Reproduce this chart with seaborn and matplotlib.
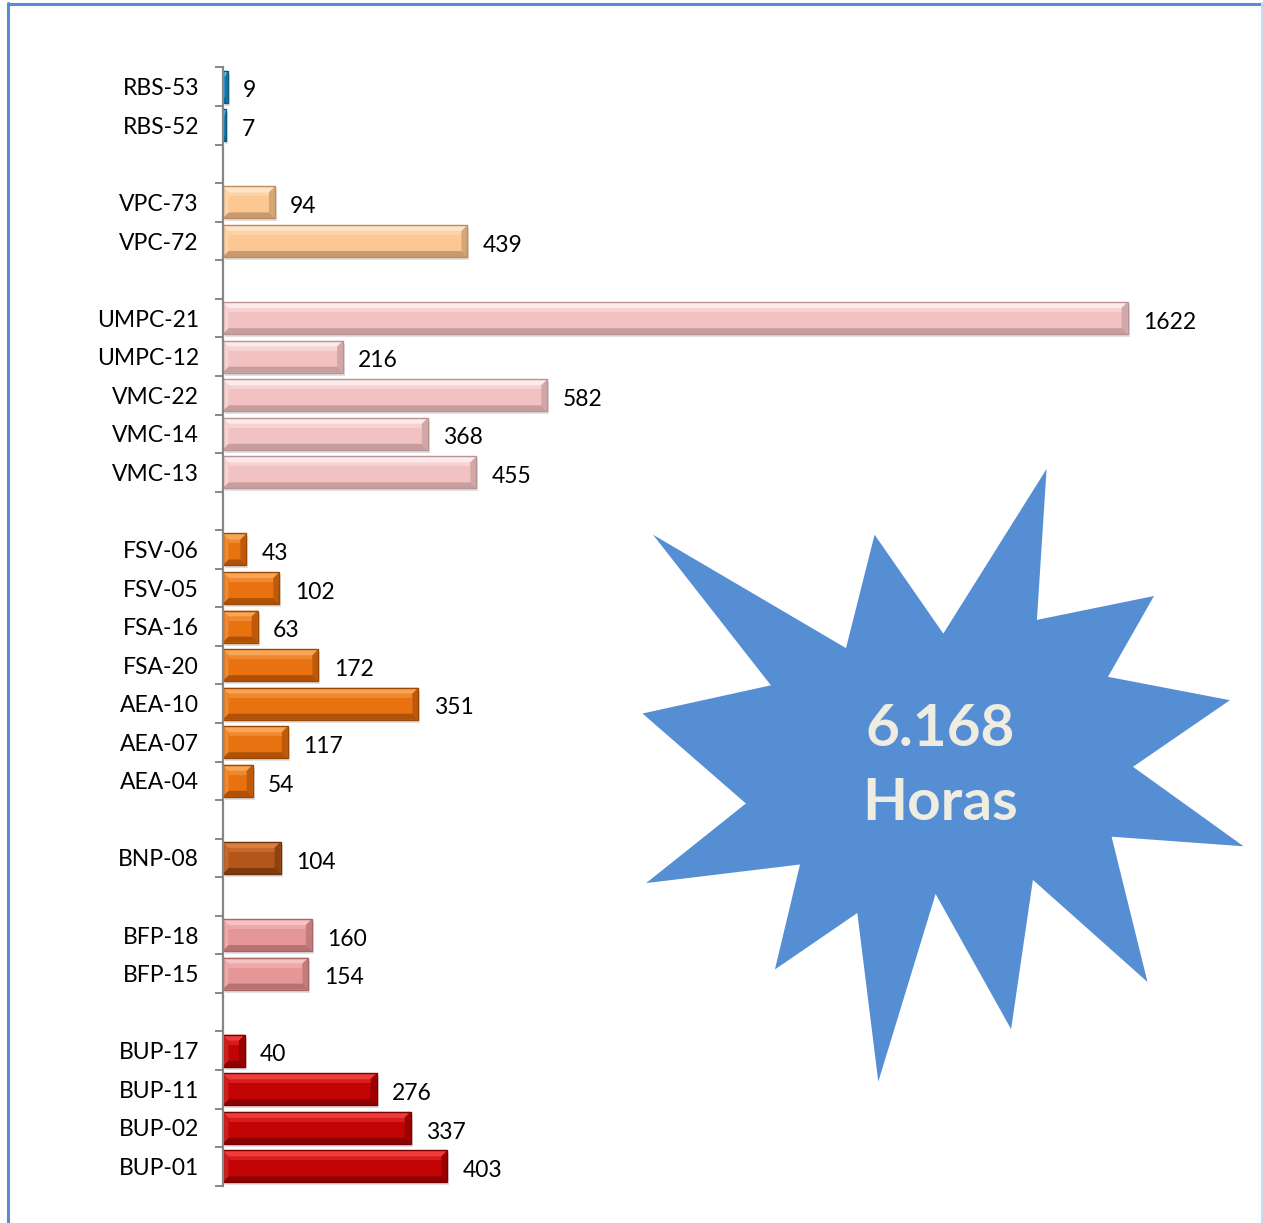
import matplotlib
matplotlib.use("Agg")
import matplotlib.pyplot as plt
from matplotlib.patches import Polygon, Rectangle
from matplotlib.lines import Line2D
import seaborn as sns
import pandas as pd
import numpy as np

# Hours per machine, listed top to bottom by group
equipos = ["RBS-53", "RBS-52",
           "VPC-73", "VPC-72",
           "UMPC-21", "UMPC-12", "VMC-22", "VMC-14", "VMC-13",
           "FSV-06", "FSV-05", "FSA-16", "FSA-20", "AEA-10", "AEA-07", "AEA-04",
           "BNP-08",
           "BFP-18", "BFP-15",
           "BUP-17", "BUP-11", "BUP-02", "BUP-01"]
horas = [9, 7,
         94, 439,
         1622, 216, 582, 368, 455,
         43, 102, 63, 172, 351, 117, 54,
         104,
         160, 154,
         40, 276, 337, 403]
grupos = ["RBS"] * 2 + ["VPC"] * 2 + ["UMPC"] * 5 + ["FS"] * 7 + ["BNP"] + ["BFP"] * 2 + ["BUP"] * 4

# Row layout with an empty slot between groups
orden = ["RBS-53", "RBS-52", "sep1",
         "VPC-73", "VPC-72", "sep2",
         "UMPC-21", "UMPC-12", "VMC-22", "VMC-14", "VMC-13", "sep3",
         "FSV-06", "FSV-05", "FSA-16", "FSA-20", "AEA-10", "AEA-07", "AEA-04", "sep4",
         "BNP-08", "sep5",
         "BFP-18", "BFP-15", "sep6",
         "BUP-17", "BUP-11", "BUP-02", "BUP-01"]

total_texto = "6.168\nHoras"

# face, highlight, shade per group
colores = {
    "RBS": ("#1b8cc8", "#5cc0ec", "#0b5a84"),
    "VPC": ("#fcc792", "#fee3c6", "#b98c63"),
    "UMPC": ("#f2c1c1", "#fdeaea", "#b99393"),
    "FS": ("#e8720f", "#f9a556", "#9c4805"),
    "BNP": ("#b3561a", "#d98040", "#6e3208"),
    "BFP": ("#e69696", "#f6c2c2", "#a86565"),
    "BUP": ("#c20404", "#ee3c3c", "#7a0000"),
}

df = pd.DataFrame({"equipo": equipos, "horas": horas, "grupo": grupos})

W, H = 1263, 1223
fig = plt.figure(figsize=(W / 100, H / 100), dpi=100)
sns.set_style("white")
plt.rcParams["font.family"] = ["Lato", "DejaVu Sans"]

ax_left, ax_top, ax_bot = 222.5, 67.5, 1185.7
xmax = 1800
px_per_unit = 0.558
ax_right = ax_left + xmax * px_per_unit
ax = fig.add_axes([ax_left / W, 1 - ax_bot / H, (ax_right - ax_left) / W, (ax_bot - ax_top) / H])

palette = {e: colores[g][0] for e, g in zip(equipos, grupos)}
sns.barplot(data=df, x="horas", y="equipo", order=orden, hue="equipo",
            palette=palette, legend=False, width=0.83, ax=ax,
            saturation=1, linewidth=0, zorder=3)

ax.set_xlim(0, xmax)
ax.set_ylim(len(orden) - 0.5, -0.5)

# axis styling
for s in ["top", "right", "bottom"]:
    ax.spines[s].set_visible(False)
ax.spines["left"].set_color("#878787")
ax.spines["left"].set_linewidth(1.6)
ax.spines["left"].set_zorder(6)
ax.xaxis.set_visible(False)
ax.set_ylabel("")
ax.set_yticks(range(len(orden)))
ax.set_yticklabels([o if not o.startswith("sep") else "" for o in orden],
                   fontsize=16.5, color="black")
ax.tick_params(axis="y", which="major", left=False, length=0, pad=17)
ax.set_yticks(np.arange(-0.5, len(orden), 1.0), minor=True)
ax.tick_params(axis="y", which="minor", left=True, length=5.5, width=1.4,
               color="#878787", direction="out")

# bevel decoration derived from each bar's geometry
dx = xmax / (ax_right - ax_left)
dy = len(orden) / (ax_bot - ax_top)

bars = [p for p in ax.patches if isinstance(p, Rectangle) and p.get_width() > 0]
for p in bars:
    x0, y0 = p.get_x(), p.get_y()
    w, h = p.get_width(), p.get_height()
    fc = matplotlib.colors.to_hex(p.get_facecolor())
    grp = next(g for g, c in colores.items() if c[0] == fc)
    face, hi, sh = colores[grp]
    b_px = min(6.0, (w / dx) / 2.2)
    bx, by = b_px * dx, 6.0 * dy
    x1, y1 = x0 + w, y0 + h
    # soft shadow
    ax.add_patch(Rectangle((x0 + 2 * dx, y0 + 3 * dy), w, h, facecolor="#000000",
                           alpha=0.12, linewidth=0, zorder=2))
    # top highlight
    ax.add_patch(Polygon([(x0, y0), (x1, y0), (x1 - bx, y0 + by), (x0 + bx, y0 + by)],
                         closed=True, facecolor=hi, linewidth=0, zorder=4))
    # soft glow just under the top bevel
    ax.add_patch(Rectangle((x0 + bx, y0 + by), max(w - 2 * bx, 0), 4 * dy,
                           facecolor=hi, alpha=0.45, linewidth=0, zorder=4))
    # bottom shade
    ax.add_patch(Polygon([(x0, y1), (x1, y1), (x1 - bx, y1 - by), (x0 + bx, y1 - by)],
                         closed=True, facecolor=sh, alpha=0.75, linewidth=0, zorder=4))
    # right shade
    ax.add_patch(Polygon([(x1, y0), (x1, y1), (x1 - bx, y1 - by), (x1 - bx, y0 + by)],
                         closed=True, facecolor=sh, alpha=0.55, linewidth=0, zorder=4))
    # left light
    ax.add_patch(Polygon([(x0, y0), (x0, y1), (x0 + bx, y1 - by), (x0 + bx, y0 + by)],
                         closed=True, facecolor=hi, alpha=0.45, linewidth=0, zorder=4))
    # outline
    ax.add_patch(Rectangle((x0, y0), w, h, fill=False, edgecolor=sh, linewidth=1.0, zorder=5))

# value labels
for cont in ax.containers:
    textos = ax.bar_label(cont, labels=[f"{int(v)}" for v in cont.datavalues],
                          padding=11, fontsize=16.5, color="black")
    for t in textos:
        t.xyann = (11, -3)

# starburst with the total
star_px = [(1046.6, 468.9), (1036.9, 619.9), (1154.0, 596.0), (1108.0, 676.8),
           (1229.9, 700.2), (1133.0, 766.8), (1243.6, 846.3), (1111.6, 836.7),
           (1147.5, 982.0), (1032.9, 879.9), (1011.1, 1029.2), (935.6, 894.0),
           (878.3, 1081.7), (857.3, 913.0), (774.9, 969.5), (800.0, 864.5),
           (646.1, 883.1), (745.9, 803.5), (642.5, 713.5), (770.9, 685.3),
           (653.0, 534.7), (846.0, 648.1), (874.6, 534.7), (943.3, 633.6)]
star = Polygon([(x / W, 1 - y / H) for x, y in star_px], closed=True,
               facecolor="#568ed4", edgecolor="none", transform=fig.transFigure, zorder=10)
fig.patches.append(star)
lineas = total_texto.split("\n")
fig.text(940 / W, 1 - 729 / H, lineas[0], ha="center", va="center", fontsize=42,
         fontweight="bold", color="#efece2", zorder=11, family=["Lato", "DejaVu Sans"])
fig.text(940 / W, 1 - 803 / H, lineas[1], ha="center", va="center", fontsize=42,
         fontweight="bold", color="#efece2", zorder=11, family=["Lato", "DejaVu Sans"])

# outer frame
fig.add_artist(Line2D([8 / W, 8 / W], [0, 1 - 3 / H], color="#5b8bd6", lw=2.2, transform=fig.transFigure))
fig.add_artist(Line2D([8 / W, 1262 / W], [1 - 3.5 / H, 1 - 3.5 / H], color="#5b8bd6", lw=2.2, transform=fig.transFigure))
fig.add_artist(Line2D([1261.5 / W, 1261.5 / W], [0, 1 - 3 / H], color="#c9d9f0", lw=1.5, transform=fig.transFigure))

fig.savefig("out.png", dpi=100)
